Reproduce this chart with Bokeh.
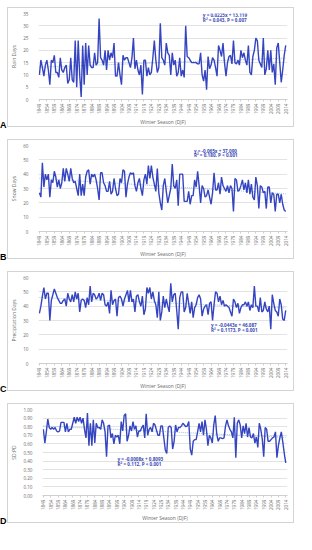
from bokeh.plotting import figure
from bokeh.layouts import column, row
from bokeh.models import FixedTicker, Label, NumeralTickFormatter, Div
from bokeh.embed import file_html
from bokeh.resources import INLINE
from math import pi

# ---------------- data ----------------
first_year = 1849
tick_years = list(range(1849, 2015, 5))

rain_days = [
    10, 16, 13, 9.5, 14, 16, 12, 6, 16, 15,
    18, 11, 11, 9, 17, 12, 11, 13, 14, 6.5,
    8, 17, 8, 7, 24, 5, 24, 10, 1, 22,
    6, 23, 10, 22, 14, 13, 13, 19, 14, 15,
    33, 17, 16, 14, 20, 12, 20, 16, 19, 17,
    23, 9.5, 9.5, 15, 10, 6, 18, 16, 17, 17,
    15, 13, 17, 25, 12.5, 16, 12, 10, 14, 2,
    16, 16, 9.5, 13, 10, 11, 17, 24, 16, 11,
    13, 31, 17, 16, 14, 23, 19, 18, 10, 19,
    14, 16, 9.5, 11, 17, 9.5, 12, 9, 30, 17.5,
    17, 16, 15, 15, 15, 15, 14.5, 14.5, 19, 10,
    7.5, 12, 4, 17.5, 12.5, 14, 17, 16, 13, 9.5,
    22, 20, 17.5, 23, 15, 9.5, 15, 17.5, 18, 14.5,
    24, 15, 14.5, 16, 14, 20, 17, 19, 16, 14,
    22, 11, 10, 17.5, 20, 25, 24, 16, 14.5, 13,
    25, 10, 12.5, 20, 12, 20, 11, 14.5, 6, 21,
    23, 15, 7, 12, 18, 22,
]

snow_days = [
    27, 24, 48, 31, 40, 36, 40, 24, 36, 34,
    42, 38, 31, 36, 30, 34, 44, 35, 44, 40,
    35, 44, 37, 34, 35, 30, 25, 40, 25, 33,
    25, 38, 42, 43, 33, 40, 38, 40, 36, 30,
    22, 41, 41, 34, 32, 28, 28, 35, 26, 28,
    37, 30, 25, 26, 37, 34, 43, 42, 24, 33,
    38, 41, 40, 41, 32, 28, 34, 37, 30, 25,
    36, 40, 33, 46, 37, 46, 38, 33, 28, 44,
    27, 20, 15, 32, 37, 28, 20, 25, 30, 47,
    32, 30, 36, 18, 40, 40, 40, 21, 21, 21,
    28, 19, 25, 25, 36, 31, 42, 32, 20, 32,
    30, 24, 25, 29, 24, 19, 27, 41, 29, 29,
    34, 26, 38, 32, 30, 28, 32, 27, 32, 30,
    14, 37, 36, 28, 29, 32, 36, 29, 34, 27,
    36, 26, 33, 24, 22, 38, 32, 16, 32, 31,
    27, 28, 16, 31, 31, 20, 27, 26, 14, 26,
    26, 20, 26, 19, 15, 14,
]

precipitation_days = [
    35, 40, 47, 53, 45, 49, 49, 30, 44, 48,
    52, 49, 46, 44, 42, 42, 44, 45, 40, 49, 45,
    43, 48, 43, 50, 45, 49, 36, 44, 45, 44,
    39, 46, 41, 54, 43, 49, 48, 45, 46, 49,
    44, 49, 48, 41, 40, 43, 35, 51, 41, 44, 45,
    33, 46, 47, 45, 40, 45, 48, 51, 43, 51,
    43, 45, 36, 47, 48, 43, 40, 47, 34, 38, 53,
    49, 53, 45, 50, 44, 41, 32, 50, 30, 36, 47,
    39, 45, 40, 36, 56, 43, 48, 49, 37, 24,
    46, 50, 50, 36, 39, 49, 42, 35, 43, 32,
    39, 41, 46, 48, 45, 33, 38, 40, 41, 34, 42,
    43, 30, 41, 50, 49, 43, 47, 41, 44, 40,
    41, 40, 39, 36, 33, 45, 43, 39, 42, 35, 39,
    41, 41, 43, 40, 43, 37, 41, 39, 54, 40,
    40, 36, 46, 36, 37, 43, 38, 36, 40, 24,
    48, 42, 37, 36, 33, 45, 41, 31, 30, 37,
]

sd_pd = [
    0.77, 0.61, 0.74, 0.89, 0.79, 0.77, 0.79, 0.77, 0.79, 0.75,
    0.74, 0.75, 0.85, 0.85, 0.85, 0.74, 0.84, 0.74, 0.77, 0.77,
    0.84, 0.91, 0.84, 0.91, 0.86, 0.91, 0.84, 0.90, 0.77, 0.67,
    0.96, 0.58, 0.84, 0.58, 0.88, 0.61, 0.84, 0.79, 0.79, 0.77,
    0.88, 0.84, 0.74, 0.45, 0.81, 0.82, 0.67, 0.72, 0.60, 0.70,
    0.68, 0.70, 0.60, 0.86, 0.75, 0.93, 0.95, 0.63, 0.70, 0.81,
    0.75, 0.86, 0.77, 0.81, 0.68, 0.75, 0.75, 0.79, 0.82, 0.67,
    0.95, 0.70, 0.77, 0.79, 0.74, 0.84, 0.82, 0.76, 0.70, 0.70, 0.81,
    0.81, 0.67, 0.53, 0.49, 0.79, 0.81, 0.79, 0.54, 0.63, 0.82,
    0.74, 0.79, 0.79, 0.81, 0.84, 0.82, 0.80, 0.81, 0.86, 0.54, 0.47,
    0.63, 0.65, 0.65, 0.74, 0.84, 0.74, 0.86, 0.70, 0.88, 0.77,
    0.58, 0.70, 0.67, 0.61, 0.82, 0.93, 0.72, 0.63, 0.67, 0.67, 0.66,
    0.67, 0.81, 0.88, 0.81, 0.77, 0.74, 0.67, 0.91, 0.44, 0.84,
    0.88, 0.82, 0.67, 0.81, 0.72, 0.84, 0.68, 0.79, 0.68, 0.67, 0.72,
    0.61, 0.68, 0.56, 0.84, 0.77, 0.66, 0.45, 0.79, 0.77, 0.63, 0.63,
    0.65, 0.67, 0.68, 0.74, 0.44, 0.58, 0.67, 0.74, 0.62, 0.49, 0.38,
]

series = [rain_days, snow_days, precipitation_days, sd_pd]
panel_letters = ["A", "B", "C", "D"]
y_titles = ["Rain Days", "Snow Days", "Precipitation Days", "SD:PD"]
x_title = "Winter Season (DJF)"
y_max = [35, 60, 60, 1.0]
y_step = [5, 10, 10, 0.1]
trend_slope = [0.0225, -0.065, -0.0443, -0.0008]
trend_intercept = [13.119, 37.090, 46.087, 0.8093]
eq_texts = ["y = 0.0225x + 13.119", "y = -0.065x + 37.090",
            "y = -0.0443x + 46.087", "y = -0.0008x + 0.8093"]
stat_texts = ["R\u00b2 = 0.043, P = 0.007", "R\u00b2 = 0.180, P < 0.001",
              "R\u00b2 = 0.1173, P < 0.001", "R\u00b2 = 0.112, P < 0.001"]

# ---------------- layout / style ----------------
fig_w, fig_h = 287, 120
left_b, right_b, top_b, bottom_b = 23, 8, 5, 23
letter_w = 7
ann_pos = [(1958.5, 34.3, 32.2), (1952.5, 56.4, 53.2), (1964.0, 27.0, 23.4), (1899.5, 0.424, 0.365)]
font = "Open Sans"
line_col = "#3545c0"
ann_col = "#3a4ab8"
grid_col = "#dcdcdc"
text_col = "#6b6b6b"

panels = []
for i, vals in enumerate(series):
    n = len(vals)
    years = [first_year + k for k in range(n)]
    p = figure(width=fig_w, height=fig_h, output_backend="svg", toolbar_location=None,
               x_range=(first_year - 0.6, first_year + n - 1 + 1.2), y_range=(0, y_max[i]),
               min_border_left=left_b, min_border_right=right_b,
               min_border_top=top_b, min_border_bottom=bottom_b,
               background_fill_color="white", border_fill_color="white",
               outline_line_color=None,
               styles={"border": "1px solid #d4d4d4"})
    idx = list(range(1, n + 1))
    trend = [trend_slope[i] * t + trend_intercept[i] for t in idx]
    p.line(years, trend, line_color="#8bb8e8", line_width=0.9, line_dash="1 1")
    p.line(years, vals, line_color=line_col, line_width=1.4)

    p.xaxis.ticker = FixedTicker(ticks=tick_years)
    p.xaxis.major_label_orientation = pi / 2
    p.xaxis.major_label_text_font_size = "4.6px"
    p.xaxis.major_label_text_color = text_col
    p.xaxis.major_label_text_font = font
    p.xaxis.major_label_standoff = 2
    p.xaxis.axis_line_color = "#cfcfcf"
    p.xaxis.major_tick_line_color = "#cfcfcf"
    p.xaxis.major_tick_out = 2
    p.xaxis.major_tick_in = 0
    p.xaxis.minor_tick_line_color = None
    p.xaxis.axis_label = x_title
    p.xaxis.axis_label_text_font_size = "5px"
    p.xaxis.axis_label_text_font_style = "normal"
    p.xaxis.axis_label_text_color = text_col
    p.xaxis.axis_label_text_font = font
    p.xaxis.axis_label_standoff = 2

    ticks = [round(k * y_step[i], 2) for k in range(int(round(y_max[i] / y_step[i])) + 1)]
    p.yaxis.ticker = FixedTicker(ticks=ticks)
    if i == 3:
        p.yaxis.formatter = NumeralTickFormatter(format="0.00")
    p.yaxis.major_label_text_font_size = "4.6px"
    p.yaxis.major_label_text_color = text_col
    p.yaxis.major_label_text_font = font
    p.yaxis.major_label_standoff = 4
    p.yaxis.axis_line_color = None
    p.yaxis.major_tick_line_color = None
    p.yaxis.minor_tick_line_color = None
    p.yaxis.axis_label = y_titles[i]
    p.yaxis.axis_label_text_font_size = "5px"
    p.yaxis.axis_label_text_font_style = "normal"
    p.yaxis.axis_label_text_color = text_col
    p.yaxis.axis_label_text_font = font
    p.yaxis.axis_label_standoff = 3

    p.xgrid.visible = False
    p.ygrid.grid_line_color = grid_col
    p.ygrid.grid_line_width = 0.8

    ax, ay1, ay2 = ann_pos[i]
    for txt, yy in ((eq_texts[i], ay1), (stat_texts[i], ay2)):
        p.add_layout(Label(x=ax, y=yy, text=txt, text_font=font, text_font_size="4.6px",
                           text_font_style="bold", text_color=ann_col, text_baseline="middle"))

    letter = Div(text=('<div style="margin-top:%dpx;font-family:\'Liberation Sans\';'
                       'font-weight:bold;font-size:9px;color:black;line-height:9px;">%s</div>')
                 % (fig_h - 6, panel_letters[i]),
                 width=letter_w, height=fig_h + 2, margin=0)
    panels.append(row(letter, p, spacing=0, margin=0))

layout = column(*panels, spacing=10, margin=(7, 0, 0, 0))
open("out.html", "w").write(file_html(layout, INLINE))
